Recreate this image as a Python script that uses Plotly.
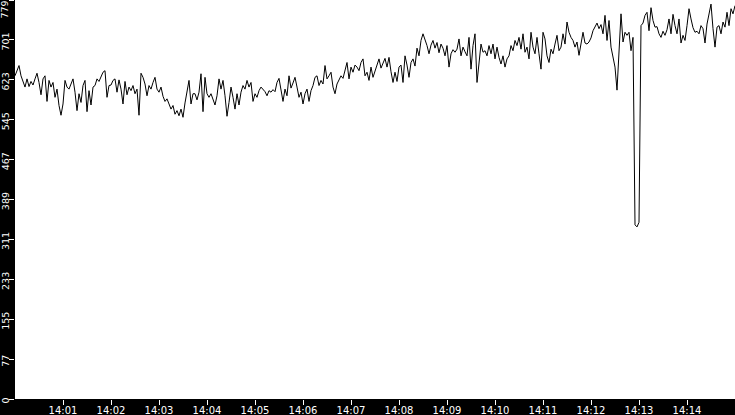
import pandas as pd
import plotly.graph_objects as go

vals_a = [
    631, 641, 651, 631, 618, 609, 625, 610, 620, 613,
    625, 636, 618, 594, 625, 631, 581, 622, 609, 618,
    589, 605, 573, 554, 576, 622, 609, 605, 615, 625,
    599, 563, 596, 579, 612, 622, 561, 602, 574, 609,
    612, 625, 620, 631, 638, 641, 589, 612, 613, 622,
    625, 599, 623, 605, 576, 620, 594, 609, 602, 612,
    596, 605, 554, 636, 628, 615, 592, 612, 605, 618,
    628, 605, 599, 609, 591, 581, 586, 576, 566, 573,
    556, 563, 553, 566, 550, 578, 602, 622, 576, 596,
]
vals_b = [
    596, 584, 599, 635, 561, 628, 596, 589, 596, 586,
    574, 592, 625, 605, 622, 592, 552, 579, 609, 589,
    566, 596, 574, 599, 612, 605, 622, 609, 618, 581,
    596, 589, 602, 609, 605, 600, 592, 602, 599, 604,
    600, 618, 626, 599, 581, 605, 592, 631, 607, 617,
    628, 609, 589, 599, 576, 596, 605, 581, 602, 612,
    628, 631, 612, 622, 615, 651, 625, 631, 638, 609,
    596, 615, 622, 631, 626, 644, 657, 625, 648, 638,
    652, 648, 641, 657, 664, 631, 638, 622, 648, 628,
]
vals_c = [
    641, 651, 664, 646, 656, 665, 648, 667, 639, 618,
    638, 620, 648, 652, 618, 670, 652, 628, 657, 664,
    650, 685, 670, 700, 713, 703, 690, 674, 691, 700,
    685, 696, 676, 693, 685, 670, 690, 648, 674, 682,
    677, 683, 703, 670, 687, 678, 670, 706, 644, 690,
    713, 618, 661, 693, 677, 680, 670, 690, 674, 693,
    664, 687, 667, 654, 670, 648, 664, 670, 690, 680,
    700, 690, 706, 683, 713, 677, 687, 664, 716, 687,
    674, 706, 674, 644, 716, 703, 670, 657, 683, 674,
]
vals_d = [
    693, 710, 680, 687, 713, 693, 736, 716, 706, 700,
    687, 697, 671, 693, 716, 695, 693, 697, 705, 719,
    727, 734, 723, 731, 713, 749, 700, 739, 687, 664,
    648, 603, 693, 752, 697, 716, 710, 716, 680, 706,
    340, 336, 345, 729, 734, 749, 755, 719, 764, 739,
    726, 727, 713, 706, 718, 710, 721, 742, 713, 751,
    729, 713, 742, 695, 710, 700, 729, 762, 742, 725,
    716, 718, 713, 729, 723, 695, 732, 752, 771, 723,
    687, 726, 729, 713, 736, 726, 755, 729, 762, 752,
    768,
]

start_time = "2024-01-01 14:00:00"
end_time = "2024-01-01 14:15:00"
sample_step = "2500ms"

x_tick_text = ["14:01", "14:02", "14:03", "14:04", "14:05", "14:06", "14:07",
               "14:08", "14:09", "14:10", "14:11", "14:12", "14:13", "14:14"]
y_tick_vals = [0, 77.9, 155.8, 233.7, 311.6, 389.5, 467.4, 545.3, 623.2, 701.1, 779]
y_tick_text = ["0", "77", "155", "233", "311", "389", "467", "545", "623", "701", "779"]

values = vals_a + vals_b + vals_c + vals_d
times = pd.date_range(start_time, periods=len(values), freq=sample_step)
x_tick_vals = [pd.Timestamp("2024-01-01 " + t) for t in x_tick_text]

xfont = dict(family="DejaVu Sans", size=10, color="white")
yfont = dict(family="DejaVu Sans", size=9.5, color="white")

fig = go.Figure()
fig.add_trace(go.Scatter(
    x=times, y=values, mode="lines",
    line=dict(color="black", width=1),
    hoverinfo="skip", showlegend=False,
))

fig.update_layout(
    width=735, height=415,
    margin=dict(l=15, r=0, t=0, b=16, pad=0),
    paper_bgcolor="black", plot_bgcolor="white",
    showlegend=False,
)
fig.update_xaxes(
    type="date", range=[start_time, end_time], automargin=False,
    tickvals=x_tick_vals, ticktext=x_tick_text,
    ticks="outside", ticklen=5, tickwidth=1, tickcolor="white",
    ticklabelstandoff=-3,
    tickfont=xfont, showgrid=False, zeroline=False, showline=False,
)
fig.update_yaxes(
    range=[0, 779], automargin=False,
    tickvals=y_tick_vals, ticktext=y_tick_text[:-1] + [""],
    tickangle=-90, ticklabelshift=3, ticklabelstandoff=-4,
    ticks="outside", ticklen=5, tickwidth=1, tickcolor="white",
    tickfont=yfont, showgrid=False, zeroline=False, showline=False,
)
fig.add_annotation(
    x=0, xref="paper", xanchor="right", xshift=-5,
    y=y_tick_vals[-1], yref="y", yanchor="top",
    text=y_tick_text[-1], textangle=-90, showarrow=False,
    font=yfont, borderpad=0,
)

fig.write_html(
    "out.html",
    config={"displayModeBar": False},
    post_script="document.body.style.margin='0';document.body.style.background='black';",
)
